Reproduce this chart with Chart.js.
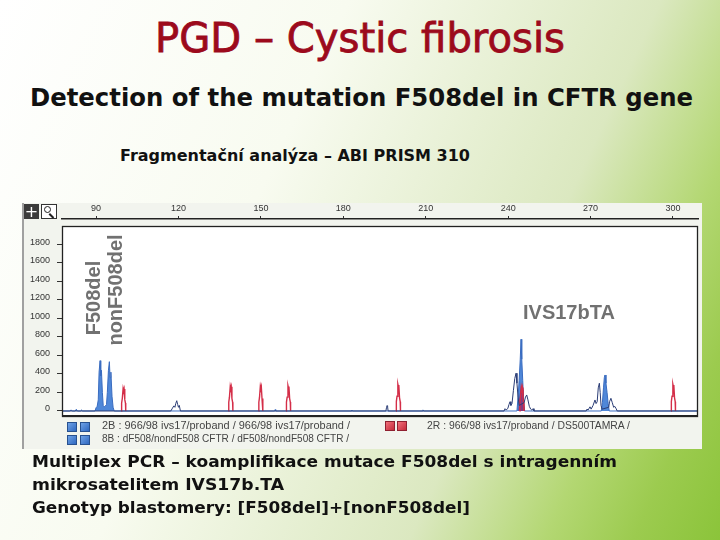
<!DOCTYPE html>
<html>
<head>
<meta charset="utf-8">
<script src="https://cdn.jsdelivr.net/npm/chart.js@4.4.1/dist/chart.umd.min.js"></script>
<style>
  html, body { margin: 0; padding: 0; }
  body { width: 720px; height: 540px; overflow: hidden; position: relative;
    background: linear-gradient(115deg, #ffffff 0%, #f8fbf0 36%, #dbe8c0 68%, #b3d772 82%, #9ccb4f 91%, #8bc43a 100%); }
  .abs { position: absolute; white-space: nowrap; }
  .fit { display: inline-block; transform-origin: 0 50%; }
  #panel { position: absolute; left: 22px; top: 203px; width: 680px; height: 246px; background: #f2f4ee; border-left: 2px solid #a0a0a0; box-sizing: border-box; }
  #chartWrap { position: absolute; left: 22px; top: 200px; width: 682px; height: 252px; }
  .sq { position: absolute; width: 10px; height: 10px; box-sizing: border-box; }
  .sqb { background: linear-gradient(135deg, #6fa2e6, #2f68c0); border: 1px solid #28518f; }
  .sqr { background: linear-gradient(135deg, #f0707a, #c52a3a); border: 1px solid #8f2030; }
  .leg { font-family: "Liberation Sans", Arial, sans-serif; font-size: 10px; color: #444; line-height: 12px; }
  .big { font-family: "DejaVu Sans", sans-serif; }
  .gray { font-family: "Liberation Sans", Arial, sans-serif; font-weight: bold; font-size: 20px; color: #717171; line-height: 22px; }
</style>
</head>
<body>
<div id="panel"></div>
<div id="chartWrap"><canvas id="c" width="682" height="252"></canvas></div>

<!-- toolbar icons -->
<div class="abs" style="left:24px;top:204px;width:15px;height:15px;background:#3b3b3b;color:#fff;font:16px/15px 'DejaVu Sans',sans-serif;text-align:center;">+</div>
<div class="abs" style="left:41px;top:204px;width:16px;height:15px;background:#fff;border:1px solid #333;box-sizing:border-box;">
  <div class="abs" style="left:2px;top:1px;width:7px;height:7px;border:1.5px solid #222;border-radius:50%;box-sizing:border-box;"></div>
  <div class="abs" style="left:8px;top:8px;width:6px;height:2px;background:#222;transform:rotate(45deg);transform-origin:0 0;"></div>
</div>

<!-- titles -->
<div class="abs big" style="left:155px;top:16px;line-height:44px;height:44px;"><span class="fit" data-w="410" style="font-size:40px;color:#9c0a1c;-webkit-text-stroke:0.8px #9c0a1c;">PGD – Cystic fibrosis</span></div>
<div class="abs big" style="left:30px;top:83px;line-height:30px;height:30px;"><span class="fit" data-w="663" style="font-size:25px;font-weight:bold;color:#111;">Detection of the mutation F508del in CFTR gene</span></div>
<div class="abs big" style="left:120px;top:146px;line-height:20px;height:20px;"><span class="fit" data-w="350" style="font-size:15px;font-weight:bold;color:#111;">Fragmentační analýza – ABI PRISM 310</span></div>

<!-- gray annotation labels -->
<div class="abs gray" style="left:93px;top:298px;transform:translate(-50%,-50%) rotate(-90deg);">F508del</div>
<div class="abs gray" style="left:115px;top:290px;transform:translate(-50%,-50%) rotate(-90deg);">nonF508del</div>
<div class="abs gray" style="left:523px;top:301px;">IVS17bTA</div>

<!-- legend -->
<div class="sq sqb" style="left:67px;top:422px;"></div><div class="sq sqb" style="left:80px;top:422px;"></div>
<div class="sq sqb" style="left:67px;top:435px;"></div><div class="sq sqb" style="left:80px;top:435px;"></div>
<div class="abs leg" style="left:102px;top:420px;"><span class="fit" data-w="248">2B : 966/98 ivs17/proband / 966/98 ivs17/proband /</span></div>
<div class="abs leg" style="left:102px;top:433px;"><span class="fit" data-w="247">8B : dF508/nondF508 CFTR / dF508/nondF508 CFTR /</span></div>
<div class="sq sqr" style="left:385px;top:421px;"></div><div class="sq sqr" style="left:397px;top:421px;"></div>
<div class="abs leg" style="left:427px;top:420px;"><span class="fit" data-w="203">2R : 966/98 ivs17/proband / DS500TAMRA /</span></div>

<!-- bottom text -->
<div class="abs big" style="left:32px;top:451px;line-height:22px;height:22px;"><span class="fit" data-w="585" style="font-size:16px;font-weight:bold;color:#111;">Multiplex PCR – koamplifikace mutace F508del s intragenním</span></div>
<div class="abs big" style="left:32px;top:474px;line-height:22px;height:22px;"><span class="fit" data-w="252" style="font-size:16px;font-weight:bold;color:#111;">mikrosatelitem IVS17b.TA</span></div>
<div class="abs big" style="left:32px;top:497px;line-height:22px;height:22px;"><span class="fit" data-w="438" style="font-size:16px;font-weight:bold;color:#111;">Genotyp blastomery: [F508del]+[nonF508del]</span></div>

<script>
// ---- tick labels ----
const xTickLabels = [90, 120, 150, 180, 210, 240, 270, 300];
const yTickLabels = [0, 200, 400, 600, 800, 1000, 1200, 1400, 1600, 1800];

// ---- blue channel, filled trace (size in bp, height in RFU) ----
const blueFillBp = [77.6, 80.5, 80.9, 81.3, 82.4, 82.8, 83.2, 84.3, 84.7, 85.1,
  89.6, 90.0, 90.4, 90.8, 91.1, 91.46, 91.7, 91.95, 92.3, 92.6, 93.0, 93.4, 93.8, 94.1, 94.5, 94.84, 95.1, 95.4, 95.8, 96.2, 96.6,
  155.0, 155.2, 155.4, 182.9, 183.1, 183.3, 208.8, 209.0, 209.2,
  243.2, 243.6, 244.0, 244.4, 244.68, 244.95, 245.3, 245.6, 245.9,
  273.9, 274.3, 274.7, 275.0, 275.25, 275.6, 276.0, 276.4, 276.8, 309.1];
const blueFillRfu = [0, 0, 12, 0, 0, 18, 0, 0, 10, 0,
  0, 35, 50, 120, 420, 544, 380, 440, 200, 60, 45, 55, 70, 200, 440, 533, 360, 420, 160, 40, 0,
  0, 15, 0, 0, 10, 0, 0, 12, 0,
  0, 150, 330, 560, 775, 560, 330, 120, 0,
  0, 90, 250, 360, 389, 300, 200, 80, 0, 0];

// ---- blue channel, outline trace ----
const navyBp = [77.6, 117.2, 117.8, 118.3, 118.7, 119.0, 119.37, 119.7, 120.0, 120.3, 120.7,
  195.5, 195.7, 195.9, 196.1, 196.3,
  238.5, 238.86, 239.3, 239.9, 240.3, 240.68, 241.0, 241.4, 241.9, 242.4, 242.86, 243.2, 243.6, 244.0, 245.8, 246.3, 246.76, 247.2, 247.7, 248.2, 248.6, 249.05, 249.4,
  268.4, 268.7, 269.0, 269.5, 269.8, 270.2, 270.9, 271.6, 272.0, 272.4, 272.8, 273.2, 273.5, 273.8, 274.2, 276.6, 276.9, 277.4, 277.9, 278.4, 278.8, 279.3, 279.7, 309.1];
const navyRfu = [0, 0, 30, 55, 40, 80, 111, 70, 40, 60, 0,
  0, 35, 57, 50, 0,
  0, 25, 10, 30, 70, 100, 60, 80, 220, 350, 408, 300, 150, 60, 90, 150, 173, 120, 50, 20, 10, 25, 0,
  0, 20, 10, 30, 45, 20, 60, 119, 80, 100, 250, 300, 200, 60, 20, 40, 100, 137, 90, 40, 50, 25, 0, 0];

// ---- red channel (size standard), outline peaks ----
const redBp = [99.2, 99.3, 99.55, 99.85, 100.05, 100.2, 100.45, 100.7, 100.8, 101,
  138.2, 138.3, 138.55, 138.85, 139.05, 139.2, 139.45, 139.7, 139.8, 140,
  149.15, 149.25, 149.5, 149.8, 150.0, 150.15, 150.4, 150.65, 150.75, 151,
  159.2, 159.3, 159.55, 159.85, 160.05, 160.2, 160.45, 160.7, 160.8, 161,
  199.2, 199.3, 199.55, 199.85, 200.05, 200.2, 200.45, 200.7, 200.8, 201,
  244.15, 244.25, 244.5, 244.8, 245.0, 245.15, 245.4, 245.65, 245.75, 246,
  299.3, 299.4, 299.65, 299.95, 300.15, 300.3, 300.55, 300.8, 300.9];
const redRfu = [0, 86, 135, 245, 220, 238, 123, 86, 0, null,
  0, 95, 149, 270, 243, 262, 135, 95, 0, null,
  0, 95, 149, 270, 243, 262, 135, 95, 0, null,
  0, 96, 150, 273, 246, 265, 137, 96, 0, null,
  0, 101, 159, 289, 260, 280, 145, 101, 0, null,
  0, 92, 145, 263, 237, 255, 132, 92, 0, null,
  0, 101, 159, 289, 260, 280, 145, 101, 0];

// ---- overlap of red and blue at ~245 bp (filled) ----
const purpleBp = [243.9, 244.1, 244.4, 244.8, 245.1, 245.4, 245.7, 246.0];
const purpleRfu = [0, 80, 180, 263, 230, 160, 80, 0];

function pts(xs, ys) { return xs.map((x, i) => ({ x: x, y: ys[i] })); }

const framePlugin = {
  id: 'frame',
  beforeDatasetsDraw(chart) {
    const a = chart.chartArea, ctx = chart.ctx;
    ctx.save();
    ctx.fillStyle = '#ffffff';
    ctx.fillRect(a.left, a.top + 7, a.right - a.left, a.bottom - a.top - 7);
    ctx.restore();
  },
  afterDatasetsDraw(chart) {
    const a = chart.chartArea, ctx = chart.ctx;
    ctx.save();
    ctx.strokeStyle = '#222';
    ctx.lineWidth = 1.3;
    ctx.strokeRect(a.left + 0.5, a.top + 7.5, a.right - a.left - 1, a.bottom - a.top - 8);
    ctx.lineWidth = 2;
    ctx.beginPath();
    ctx.moveTo(a.left, a.bottom - 1);
    ctx.lineTo(a.right, a.bottom - 1);
    ctx.stroke();
    ctx.restore();
  }
};

new Chart(document.getElementById('c'), {
  type: 'line',
  data: {
    datasets: [
      { label: '2B outline', data: pts(navyBp, navyRfu), borderColor: '#2b3d76', borderWidth: 1, pointRadius: 0, tension: 0, fill: false, order: 0 },
      { label: '2R', data: pts(redBp, redRfu), borderColor: '#d42e48', borderWidth: 1.4, pointRadius: 0, tension: 0, fill: false, spanGaps: false, order: 1 },
      { label: 'overlap', data: pts(purpleBp, purpleRfu), borderColor: 'rgba(120,30,90,0.9)', borderWidth: 0.8, backgroundColor: 'rgba(140,40,110,0.8)', pointRadius: 0, tension: 0, fill: 'origin', order: 2 },
      { label: '8B', data: pts(blueFillBp, blueFillRfu), borderColor: '#3a6cc0', borderWidth: 1, backgroundColor: '#4f87d8', pointRadius: 0, tension: 0, fill: 'origin', order: 3 }
    ]
  },
  options: {
    responsive: false,
    devicePixelRatio: 1,
    animation: false,
    layout: { padding: { left: 0, top: 0, right: 6, bottom: 35 } },
    plugins: { legend: { display: false }, tooltip: { enabled: false } },
    scales: {
      x: {
        type: 'linear', position: 'top', min: 77.6, max: 309.1,
        afterFit: s => { s.height = 19; },
        afterBuildTicks: s => { s.ticks = xTickLabels.map(v => ({ value: v })); },
        border: { display: true, color: '#222', width: 1.5 },
        grid: { drawOnChartArea: false, drawTicks: true, tickLength: 3, color: '#333' },
        ticks: { color: '#333', font: { family: 'Liberation Sans', size: 9 }, padding: 2, maxRotation: 0, callback: v => String(v) }
      },
      y: {
        type: 'linear', position: 'left', min: -65, max: 2075,
        afterFit: s => { s.width = 40; },
        afterBuildTicks: s => { s.ticks = yTickLabels.map(v => ({ value: v })); },
        border: { display: false },
        grid: { drawOnChartArea: false, drawTicks: true, tickLength: 5, color: '#333' },
        ticks: { color: '#333', font: { family: 'Liberation Sans', size: 9 }, padding: 7, labelOffset: -2, callback: v => String(v) }
      }
    }
  },
  plugins: [framePlugin]
});

document.querySelectorAll('.fit').forEach(el => {
  const w = el.getBoundingClientRect().width;
  const t = parseFloat(el.dataset.w);
  if (w > 0) el.style.transform = 'scaleX(' + (t / w) + ')';
});
</script>
</body>
</html>
